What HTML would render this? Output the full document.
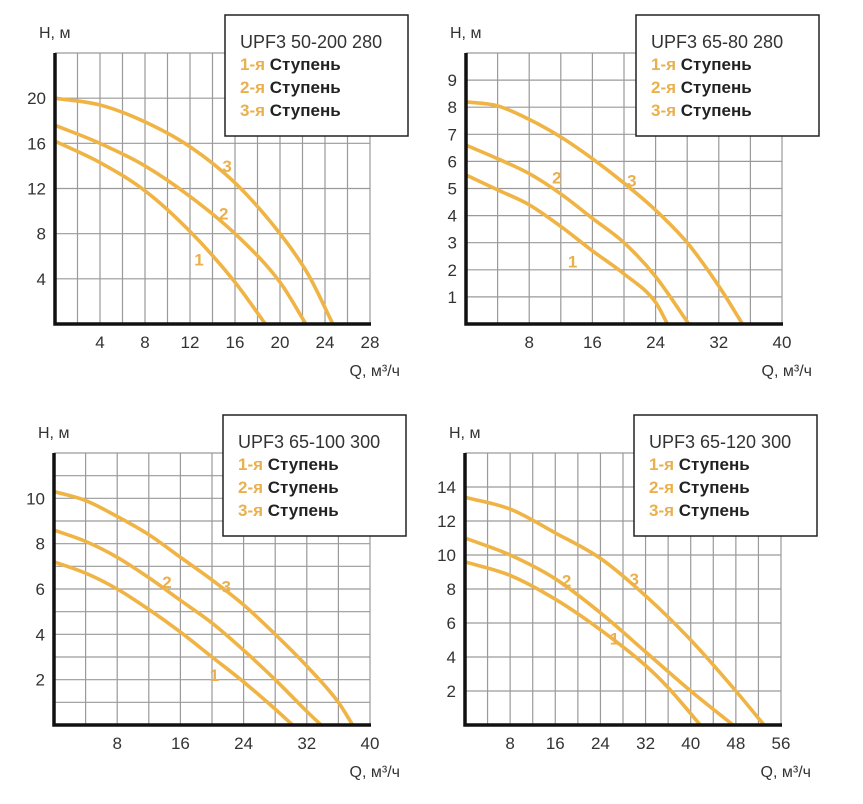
<!DOCTYPE html>
<html><head><meta charset="utf-8">
<style>
html,body{margin:0;padding:0;background:#fff;}
svg{display:block;font-family:"Liberation Sans","DejaVu Sans",sans-serif;}
</style></head>
<body>
<svg id="c" width="863" height="804" viewBox="0 0 863 804"></svg>
<script>
// Chart 1: UPF3 50-200 280
const c1Title = "UPF3 50-200 280";
const c1XTicks = [4,8,12,16,20,24,28];
const c1YTicks = [4,8,12,16,20];
const c1S1 = [[0,16.2],[4,14.3],[8,11.8],[12,8.2],[16,3.7],[18.7,0]];
const c1S2 = [[0,17.6],[4,16.0],[8,14.0],[12,11.3],[16,8.0],[20,3.7],[22.3,0]];
const c1S3 = [[0,20],[4,19.4],[8,17.9],[12,15.7],[16,12.5],[20,8.0],[22.5,4.4],[24.7,0]];
// Chart 2: UPF3 65-80 280
const c2Title = "UPF3 65-80 280";
const c2XTicks = [8,16,24,32,40];
const c2YTicks = [1,2,3,4,5,6,7,8,9];
const c2S1 = [[0,5.5],[4,4.95],[8,4.4],[12,3.6],[16,2.7],[20,1.85],[24,0.8],[25.5,0]];
const c2S2 = [[0,6.6],[4,6.1],[8,5.55],[12,4.8],[16,3.9],[20,3.0],[24,1.75],[28.2,0]];
const c2S3 = [[0,8.2],[4,8.05],[8,7.55],[12,6.9],[16,6.1],[20,5.2],[24,4.2],[28,3.0],[32,1.4],[35,0]];
// Chart 3: UPF3 65-100 300
const c3Title = "UPF3 65-100 300";
const c3XTicks = [8,16,24,32,40];
const c3YTicks = [2,4,6,8,10];
const c3S1 = [[0,7.2],[4,6.7],[8,6],[12,5.1],[16,4.1],[20,3],[24,1.9],[28,0.7],[30.2,0]];
const c3S2 = [[0,8.6],[4,8.1],[8,7.4],[12,6.5],[16,5.5],[20,4.5],[24,3.3],[28,2],[32,0.6],[33.8,0]];
const c3S3 = [[0,10.3],[4,9.9],[8,9.2],[12,8.4],[16,7.4],[20,6.4],[24,5.3],[28,4],[32,2.6],[36,1],[37.8,0]];
// Chart 4: UPF3 65-120 300
const c4Title = "UPF3 65-120 300";
const c4XTicks = [8,16,24,32,40,48,56];
const c4YTicks = [2,4,6,8,10,12,14];
const c4S1 = [[0,9.6],[8,8.8],[16,7.4],[24,5.6],[32,3.5],[36,2.2],[41.7,0]];
const c4S2 = [[0,11],[8,10],[16,8.6],[24,6.6],[32,4.3],[40,2],[47.5,0]];
const c4S3 = [[0,13.4],[8,12.7],[16,11.3],[24,9.8],[32,7.6],[40,5],[48,2],[53,0]];
const labelPos1 = [[12.8,5.7],[15,9.8],[15.3,14]];
const labelPos2 = [[13.5,2.3],[11.5,5.4],[21,5.3]];
const labelPos3 = [[20.3,2.2],[14.3,6.3],[21.8,6.1]];
const labelPos4 = [[26.5,5.1],[18,8.5],[30,8.6]];

const NS="http://www.w3.org/2000/svg";
const svg=document.getElementById('c');
function mk(tag,attrs,parent){const e=document.createElementNS(NS,tag);for(const k in attrs)e.setAttribute(k,attrs[k]);(parent||svg).appendChild(e);return e;}

function monoPath(P){
  const n=P.length,dx=[],m=[],t=[];
  for(let i=0;i<n-1;i++){dx.push(P[i+1][0]-P[i][0]);m.push((P[i+1][1]-P[i][1])/dx[i]);}
  t[0]=m[0];t[n-1]=m[n-2];
  for(let i=1;i<n-1;i++){t[i]=(m[i-1]*m[i]<=0)?0:(m[i-1]+m[i])/2;}
  for(let i=0;i<n-1;i++){
    if(m[i]===0){t[i]=0;t[i+1]=0;continue;}
    const a=t[i]/m[i],b=t[i+1]/m[i],s=a*a+b*b;
    if(s>9){const k=3/Math.sqrt(s);t[i]=k*a*m[i];t[i+1]=k*b*m[i];}
  }
  let d='M'+P[0][0]+','+P[0][1];
  for(let i=0;i<n-1;i++){
    const h=dx[i]/3;
    d+=' C'+(P[i][0]+h)+','+(P[i][1]+t[i]*h)+' '+(P[i+1][0]-h)+','+(P[i+1][1]-t[i+1]*h)+' '+P[i+1][0]+','+P[i+1][1];
  }
  return d;
}

function chart(cfg){
  const g=mk('g',{});
  
  
  const sx=v=>cfg.L+v/cfg.xMax*(cfg.R-cfg.L);
  const sy=v=>cfg.B-v/cfg.yMax*(cfg.B-cfg.T);
  const grid=mk('g',{stroke:'#9a9a9a','stroke-width':1.2},g);
  
  
  for(let v=cfg.xGrid;v<=cfg.xMax+1e-9;v+=cfg.xGrid){mk('line',{x1:sx(v),x2:sx(v),y1:cfg.T,y2:cfg.B},grid);}
  for(let v=cfg.yGrid;v<=cfg.yMax+1e-9;v+=cfg.yGrid){mk('line',{x1:cfg.L,x2:cfg.R,y1:sy(v),y2:sy(v)},grid);}
  cfg.series.forEach((pts,i)=>{
    const P=pts.map(p=>[sx(p[0]),sy(p[1])]);
    const path=mk('path',{d:monoPath(P),fill:'none',stroke:'#f0b445','stroke-width':3.6},g);
    
    
    const lp=cfg.labels[i];
    const t=mk('text',{x:sx(lp[0]),y:sy(lp[1])+6,'font-size':17,'font-weight':'bold',fill:'#eab04e','text-anchor':'middle'},g);
    t.textContent=String(i+1);
    
    
  });
  const ax=mk('path',{d:'M'+cfg.L+','+cfg.T+' V'+cfg.B+' H'+(cfg.R+1),fill:'none',stroke:'#111','stroke-width':3.5},g);
  
  
  cfg.xTicks.forEach(v=>{
    const t=mk('text',{x:sx(v),y:cfg.B+24,'font-size':17,fill:'#333','text-anchor':'middle'},g);
    t.textContent=v;
    
    
  });
  cfg.yTicks.forEach(v=>{
    const t=mk('text',{x:cfg.L-9,y:sy(v)+6,'font-size':17,fill:'#333','text-anchor':'end'},g);
    t.textContent=v;
    
    
  });
  const yt=mk('text',{x:cfg.L-16,y:cfg.T-15,'font-size':16,fill:'#333'},g);
  yt.textContent='H, м';
  
  
  const xt=mk('text',{x:cfg.R+30,y:cfg.B+52,'font-size':16,fill:'#333','text-anchor':'end'},g);
  xt.textContent='Q, м³/ч';
  
  
  const lg=mk('g',{},g);
  
  
  mk('rect',{x:cfg.bx,y:cfg.by,width:183,height:121,fill:'#fff',stroke:'#222','stroke-width':1.5},lg);
  const tt=mk('text',{x:cfg.bx+15,y:cfg.by+33,'font-size':18,fill:'#333'},lg);
  tt.textContent=cfg.title;
  
  
  ['1','2','3'].forEach((n,i)=>{
    const t=mk('text',{x:cfg.bx+15,y:cfg.by+55+i*23,'font-size':17,'font-weight':'bold',fill:'#222'},lg);
    const a=mk('tspan',{fill:'#eab04e'},t);a.textContent=n+'-я ';
    const b=mk('tspan',{},t);b.textContent='Ступень';
    
    
  });
}
chart({id:'chart-upf3-50-200',L:55,R:370,T:53,B:324,xMax:28,yMax:24,xGrid:2,yGrid:4,xTicks:c1XTicks,yTicks:c1YTicks,series:[c1S1,c1S2,c1S3],labels:labelPos1,title:c1Title,bx:225,by:15});
chart({id:'chart-upf3-65-80',L:466,R:782,T:53,B:324,xMax:40,yMax:10,xGrid:4,yGrid:1,xTicks:c2XTicks,yTicks:c2YTicks,series:[c2S1,c2S2,c2S3],labels:labelPos2,title:c2Title,bx:636,by:15});
chart({id:'chart-upf3-65-100',L:54,R:370,T:453,B:725,xMax:40,yMax:12,xGrid:4,yGrid:1,xTicks:c3XTicks,yTicks:c3YTicks,series:[c3S1,c3S2,c3S3],labels:labelPos3,title:c3Title,bx:223,by:415});
chart({id:'chart-upf3-65-120',L:465,R:781,T:453,B:725,xMax:56,yMax:16,xGrid:4,yGrid:2,xTicks:c4XTicks,yTicks:c4YTicks,series:[c4S1,c4S2,c4S3],labels:labelPos4,title:c4Title,bx:634,by:415});
</script>
</body></html>
